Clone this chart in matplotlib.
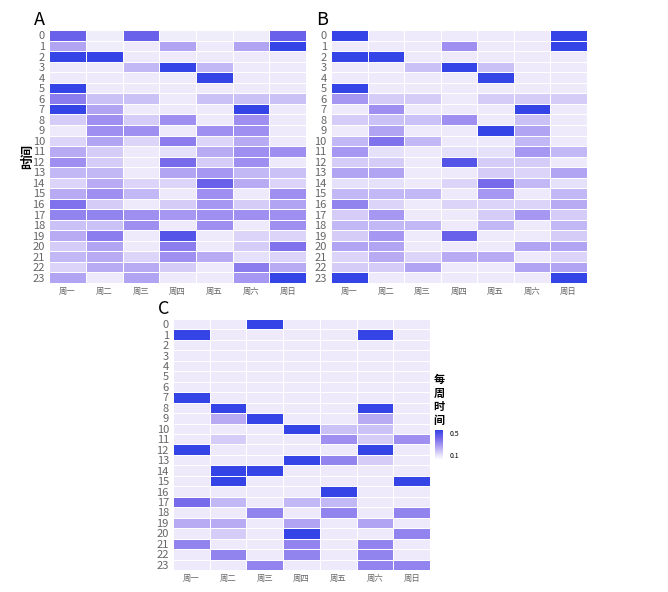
import numpy as np
import matplotlib
matplotlib.use("Agg")
import matplotlib.pyplot as plt
from matplotlib.colors import LinearSegmentedColormap

plt.rcParams['font.family'] = ['Noto Sans CJK SC', 'DejaVu Sans']

days = ["周一", "周二", "周三", "周四", "周五", "周六", "周日"]
hours = list(range(24))

# share of weekly time per hour/day
data_a = [
    [0.43, 0.07, 0.43, 0.07, 0.07, 0.07, 0.43],
    [0.25, 0.07, 0.08, 0.25, 0.08, 0.25, 0.55],
    [0.55, 0.55, 0.08, 0.08, 0.08, 0.08, 0.08],
    [0.08, 0.08, 0.20, 0.55, 0.20, 0.08, 0.08],
    [0.08, 0.08, 0.08, 0.08, 0.55, 0.08, 0.08],
    [0.55, 0.08, 0.08, 0.08, 0.08, 0.08, 0.08],
    [0.35, 0.18, 0.18, 0.08, 0.18, 0.18, 0.18],
    [0.55, 0.25, 0.08, 0.08, 0.08, 0.55, 0.08],
    [0.15, 0.30, 0.15, 0.30, 0.08, 0.30, 0.08],
    [0.08, 0.30, 0.30, 0.08, 0.30, 0.30, 0.08],
    [0.13, 0.25, 0.13, 0.35, 0.13, 0.23, 0.08],
    [0.23, 0.15, 0.08, 0.10, 0.23, 0.30, 0.30],
    [0.30, 0.15, 0.08, 0.40, 0.15, 0.30, 0.08],
    [0.20, 0.20, 0.08, 0.25, 0.28, 0.20, 0.18],
    [0.13, 0.23, 0.13, 0.13, 0.43, 0.23, 0.13],
    [0.23, 0.30, 0.20, 0.08, 0.30, 0.08, 0.30],
    [0.38, 0.15, 0.08, 0.15, 0.28, 0.15, 0.25],
    [0.33, 0.33, 0.30, 0.28, 0.30, 0.30, 0.30],
    [0.18, 0.18, 0.30, 0.08, 0.30, 0.08, 0.30],
    [0.23, 0.35, 0.08, 0.48, 0.08, 0.13, 0.13],
    [0.15, 0.25, 0.08, 0.35, 0.08, 0.15, 0.38],
    [0.20, 0.23, 0.13, 0.30, 0.23, 0.10, 0.13],
    [0.13, 0.23, 0.23, 0.15, 0.08, 0.35, 0.23],
    [0.25, 0.08, 0.25, 0.08, 0.08, 0.28, 0.55],
]

data_b = [
    [0.55, 0.08, 0.08, 0.08, 0.08, 0.08, 0.55],
    [0.08, 0.08, 0.08, 0.30, 0.08, 0.08, 0.55],
    [0.55, 0.55, 0.08, 0.08, 0.08, 0.08, 0.08],
    [0.08, 0.08, 0.18, 0.55, 0.18, 0.08, 0.08],
    [0.08, 0.08, 0.08, 0.08, 0.55, 0.08, 0.08],
    [0.55, 0.08, 0.08, 0.08, 0.08, 0.08, 0.08],
    [0.28, 0.15, 0.15, 0.08, 0.15, 0.15, 0.15],
    [0.08, 0.30, 0.08, 0.08, 0.08, 0.55, 0.08],
    [0.15, 0.18, 0.18, 0.30, 0.08, 0.18, 0.08],
    [0.08, 0.25, 0.08, 0.08, 0.55, 0.25, 0.08],
    [0.20, 0.38, 0.20, 0.08, 0.08, 0.20, 0.08],
    [0.28, 0.10, 0.08, 0.10, 0.10, 0.28, 0.20],
    [0.15, 0.15, 0.08, 0.48, 0.15, 0.15, 0.08],
    [0.25, 0.25, 0.08, 0.08, 0.15, 0.13, 0.25],
    [0.10, 0.10, 0.08, 0.13, 0.40, 0.20, 0.10],
    [0.20, 0.20, 0.20, 0.08, 0.28, 0.08, 0.20],
    [0.33, 0.13, 0.08, 0.13, 0.13, 0.13, 0.23],
    [0.15, 0.28, 0.08, 0.08, 0.15, 0.28, 0.15],
    [0.20, 0.20, 0.20, 0.08, 0.20, 0.08, 0.20],
    [0.15, 0.28, 0.08, 0.43, 0.08, 0.08, 0.15],
    [0.25, 0.25, 0.08, 0.08, 0.08, 0.25, 0.25],
    [0.13, 0.23, 0.13, 0.23, 0.23, 0.08, 0.13],
    [0.15, 0.15, 0.25, 0.08, 0.08, 0.25, 0.25],
    [0.55, 0.08, 0.08, 0.08, 0.08, 0.08, 0.55],
]

data_c = [
    [0.08, 0.08, 0.55, 0.08, 0.08, 0.08, 0.08],
    [0.55, 0.08, 0.08, 0.08, 0.08, 0.55, 0.08],
    [0.08, 0.08, 0.08, 0.08, 0.08, 0.08, 0.08],
    [0.08, 0.08, 0.08, 0.08, 0.08, 0.08, 0.08],
    [0.08, 0.08, 0.08, 0.08, 0.08, 0.08, 0.08],
    [0.08, 0.08, 0.08, 0.08, 0.08, 0.08, 0.08],
    [0.08, 0.08, 0.08, 0.08, 0.08, 0.08, 0.08],
    [0.55, 0.08, 0.08, 0.08, 0.08, 0.08, 0.08],
    [0.08, 0.55, 0.08, 0.08, 0.08, 0.55, 0.08],
    [0.08, 0.23, 0.55, 0.08, 0.08, 0.23, 0.08],
    [0.08, 0.08, 0.08, 0.55, 0.18, 0.18, 0.08],
    [0.08, 0.15, 0.08, 0.08, 0.30, 0.15, 0.30],
    [0.55, 0.08, 0.08, 0.08, 0.08, 0.55, 0.08],
    [0.08, 0.08, 0.08, 0.55, 0.33, 0.15, 0.08],
    [0.08, 0.55, 0.55, 0.08, 0.08, 0.08, 0.08],
    [0.08, 0.55, 0.08, 0.08, 0.08, 0.08, 0.55],
    [0.08, 0.08, 0.08, 0.08, 0.55, 0.08, 0.08],
    [0.40, 0.20, 0.08, 0.20, 0.20, 0.08, 0.08],
    [0.08, 0.08, 0.33, 0.08, 0.33, 0.08, 0.33],
    [0.23, 0.23, 0.08, 0.25, 0.08, 0.25, 0.08],
    [0.08, 0.15, 0.08, 0.55, 0.08, 0.08, 0.33],
    [0.33, 0.08, 0.08, 0.33, 0.08, 0.33, 0.08],
    [0.08, 0.33, 0.08, 0.33, 0.08, 0.33, 0.08],
    [0.08, 0.08, 0.33, 0.08, 0.08, 0.33, 0.33],
]

cmap = LinearSegmentedColormap.from_list(
    "wk", [(0.0, "#ffffff"), (0.12, "#efebfb"), (0.5, "#a596f2"),
           (0.75, "#7064ea"), (1.0, "#3343e6")])
vmin, vmax = 0.01, 0.555

fig = plt.figure(figsize=(6.68, 5.92), dpi=100)

def heat(rect, data, title, ylabel=False):
    ax = fig.add_axes(rect)
    arr = np.array(data)
    m = ax.pcolormesh(arr, cmap=cmap, vmin=vmin, vmax=vmax,
                      edgecolors="white", linewidth=0.5)
    ax.set_xlim(0, len(days))
    ax.set_ylim(len(hours), 0)
    ax.set_xticks(np.arange(len(days)) + 0.5)
    ax.set_xticklabels(days, fontsize=6, color="#666666")
    ax.set_yticks(np.arange(len(hours)) + 0.5)
    ax.set_yticklabels(hours, fontsize=8, color="#666666")
    ax.tick_params(length=0, pad=3)
    for s in ax.spines.values():
        s.set_visible(False)
    ax.text(-0.06, 1.005, title, transform=ax.transAxes, fontsize=13,
            va="bottom", ha="left")
    if ylabel:
        ax.set_ylabel("时间", fontsize=9, fontweight="bold", labelpad=-1)
    return m

heat([0.0734, 0.522, 0.385, 0.427], data_a, "A", ylabel=True)
heat([0.4955, 0.522, 0.383, 0.427], data_b, "B")
m = heat([0.259, 0.0372, 0.385, 0.424], data_c, "C")

cax = fig.add_axes([0.651, 0.223, 0.012, 0.0507])
cb = fig.colorbar(m, cax=cax, ticks=[0.5, 0.1])
cb.outline.set_visible(False)
cb.ax.tick_params(length=3, color="white", labelsize=5, pad=2)
cb.ax.text(0.5, 1.1, "每\n周\n时\n间", transform=cax.transAxes, ha="center",
           va="bottom", fontsize=8, fontweight="bold", linespacing=1.05)

fig.savefig("out.png", dpi=100)
